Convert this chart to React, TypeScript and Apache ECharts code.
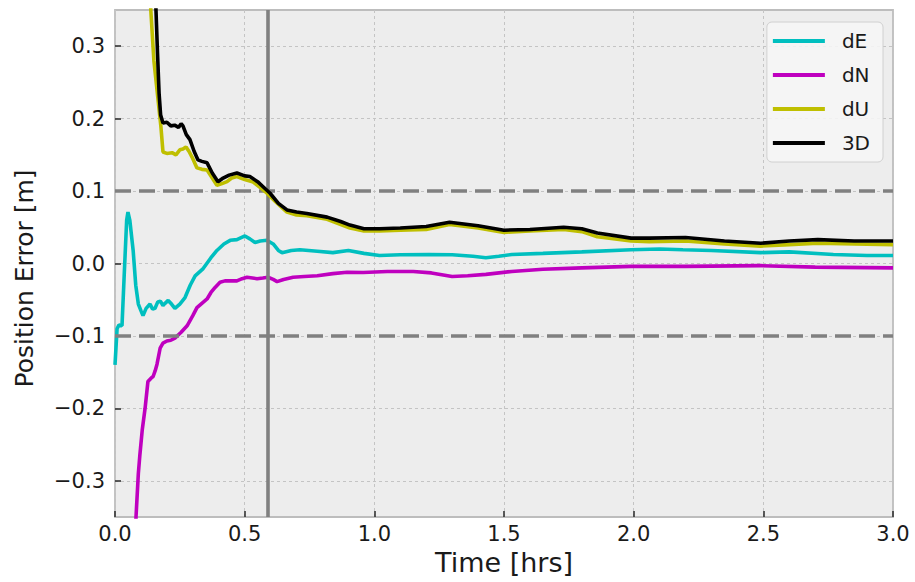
import React, { useEffect, useRef } from "react";
import * as echarts from "echarts";

const seriesNames = ["dE", "dN", "dU", "3D"];
const seriesColors = ["#00bfbf", "#bf00bf", "#bfbf00", "#000000"];

const dE: number[][] = [
  [0.0, -0.14], [0.008, -0.09], [0.015, -0.085], [0.027, -0.086], [0.035, -0.02], [0.045, 0.06], [0.05, 0.071],
  [0.057, 0.06], [0.07, 0.018], [0.08, -0.03], [0.09, -0.056], [0.1, -0.065], [0.108, -0.072], [0.12, -0.062],
  [0.135, -0.056], [0.145, -0.063], [0.154, -0.062], [0.165, -0.053], [0.175, -0.052], [0.185, -0.058],
  [0.193, -0.055], [0.205, -0.051], [0.218, -0.056], [0.231, -0.062], [0.25, -0.056], [0.27, -0.047],
  [0.29, -0.03], [0.309, -0.017], [0.34, -0.007], [0.37, 0.008], [0.393, 0.018], [0.42, 0.027], [0.444, 0.032],
  [0.47, 0.033], [0.501, 0.038], [0.52, 0.034], [0.54, 0.029], [0.56, 0.031], [0.586, 0.032], [0.61, 0.027],
  [0.63, 0.018], [0.644, 0.015], [0.68, 0.018], [0.713, 0.019], [0.78, 0.017], [0.84, 0.015], [0.9, 0.018],
  [0.96, 0.014], [1.02, 0.011], [1.1, 0.012], [1.21, 0.0125], [1.3, 0.012], [1.38, 0.01], [1.43, 0.008],
  [1.48, 0.01], [1.53, 0.0125], [1.65, 0.014], [1.8, 0.016], [1.99, 0.019], [2.1, 0.02], [2.19, 0.019],
  [2.3, 0.018], [2.49, 0.015], [2.6, 0.016], [2.77, 0.0125], [2.9, 0.011], [3.0, 0.011],
];

const dN: number[][] = [
  [0.076, -0.42], [0.081, -0.35], [0.09, -0.29], [0.096, -0.264], [0.105, -0.23], [0.116, -0.2], [0.127, -0.163],
  [0.14, -0.158], [0.147, -0.156], [0.155, -0.148], [0.162, -0.139], [0.174, -0.117], [0.185, -0.11],
  [0.2, -0.107], [0.215, -0.106], [0.231, -0.103], [0.255, -0.095], [0.278, -0.086], [0.3, -0.072],
  [0.316, -0.061], [0.335, -0.055], [0.355, -0.049], [0.37, -0.04], [0.386, -0.033], [0.405, -0.026],
  [0.424, -0.024], [0.45, -0.024], [0.47, -0.024], [0.49, -0.021], [0.509, -0.019], [0.53, -0.02],
  [0.548, -0.021], [0.57, -0.02], [0.59, -0.019], [0.61, -0.022], [0.625, -0.025], [0.65, -0.022],
  [0.687, -0.019], [0.73, -0.018], [0.78, -0.017], [0.84, -0.014], [0.895, -0.012], [0.957, -0.0125],
  [1.05, -0.011], [1.15, -0.011], [1.22, -0.013], [1.3, -0.018], [1.36, -0.017], [1.43, -0.015],
  [1.53, -0.011], [1.65, -0.008], [1.8, -0.006], [1.99, -0.004], [2.2, -0.004], [2.49, -0.003],
  [2.7, -0.005], [3.0, -0.006],
];

const dU: number[][] = [
  [0.13, 0.45], [0.138, 0.35], [0.15, 0.28], [0.166, 0.226], [0.177, 0.189], [0.185, 0.154], [0.2, 0.152],
  [0.22, 0.153], [0.235, 0.15], [0.25, 0.157], [0.262, 0.158], [0.274, 0.161], [0.285, 0.155], [0.297, 0.147],
  [0.316, 0.132], [0.335, 0.13], [0.355, 0.129], [0.375, 0.118], [0.393, 0.108], [0.41, 0.11], [0.432, 0.113],
  [0.45, 0.118], [0.47, 0.12], [0.5, 0.116], [0.53, 0.113], [0.56, 0.105], [0.586, 0.097], [0.62, 0.085],
  [0.663, 0.071], [0.7, 0.067], [0.74, 0.066], [0.818, 0.061], [0.906, 0.049], [0.96, 0.045], [1.02, 0.045],
  [1.1, 0.046], [1.2, 0.047], [1.29, 0.054], [1.4, 0.049], [1.5, 0.043], [1.6, 0.045], [1.73, 0.047],
  [1.8, 0.044], [1.86, 0.037], [1.99, 0.031], [2.06, 0.03], [2.2, 0.031], [2.35, 0.027], [2.49, 0.024],
  [2.6, 0.026], [2.71, 0.028], [2.85, 0.027], [3.0, 0.026],
];

const d3D: number[][] = [
  [0.152, 0.45], [0.158, 0.35], [0.164, 0.29], [0.17, 0.235], [0.176, 0.205], [0.185, 0.194], [0.2, 0.195],
  [0.215, 0.19], [0.23, 0.191], [0.245, 0.188], [0.255, 0.193], [0.262, 0.19], [0.275, 0.178], [0.289, 0.171],
  [0.305, 0.155], [0.32, 0.143], [0.335, 0.141], [0.355, 0.139], [0.375, 0.125], [0.397, 0.113],
  [0.417, 0.118], [0.44, 0.122], [0.47, 0.125], [0.5, 0.121], [0.52, 0.12], [0.55, 0.113], [0.571, 0.106],
  [0.598, 0.097], [0.63, 0.083], [0.663, 0.074], [0.7, 0.071], [0.74, 0.069], [0.818, 0.064], [0.87, 0.058],
  [0.906, 0.053], [0.96, 0.048], [1.02, 0.048], [1.1, 0.049], [1.2, 0.051], [1.29, 0.057], [1.4, 0.052],
  [1.5, 0.046], [1.6, 0.047], [1.73, 0.05], [1.8, 0.048], [1.86, 0.042], [1.99, 0.035], [2.06, 0.035],
  [2.2, 0.036], [2.35, 0.031], [2.49, 0.028], [2.6, 0.031], [2.71, 0.033], [2.85, 0.031], [3.0, 0.031],
];

const yTicks = [-0.3, -0.2, -0.1, 0.0, 0.1, 0.2, 0.3];
const thresholds = [0.1, -0.1];
const markerTime = 0.59;

const FONT = "DejaVu Sans";
const TXT = "#1a1a1a";

export default function App() {
  const ref = useRef<HTMLDivElement>(null);
  useEffect(() => {
    if (!ref.current) return;
    const chart = echarts.init(ref.current, undefined, { renderer: "svg" });
    const allData = [dE, dN, dU, d3D];
    const lineSeries = seriesNames.map((name, i) => ({
      name,
      type: "line",
      data: allData[i],
      showSymbol: false,
      symbol: "none",
      clip: true,
      lineStyle: { color: seriesColors[i], width: 3.6 },
      itemStyle: { color: seriesColors[i] },
      z: 3 + i,
    }));
    chart.setOption({
      animation: false,
      backgroundColor: "#ffffff",
      textStyle: { fontFamily: FONT },
      grid: {
        left: 115,
        right: 22,
        top: 10,
        bottom: 65,
        show: true,
        backgroundColor: "#ededed",
        borderColor: "#bdbdbd",
        borderWidth: 1.8,
      },
      legend: {
        data: seriesNames,
        orient: "vertical",
        right: 32,
        top: 22,
        icon: "rect",
        itemWidth: 52,
        itemHeight: 4,
        itemGap: 12,
        padding: [8, 13, 8, 6],
        backgroundColor: "rgba(245,245,245,0.9)",
        borderColor: "#d0d0d0",
        borderWidth: 1,
        borderRadius: 5,
        textStyle: { fontFamily: FONT, fontSize: 20, color: TXT, lineHeight: 22, padding: [0, 0, 0, 12] },
      },
      xAxis: {
        type: "value",
        min: 0,
        max: 3,
        interval: 0.5,
        name: "Time [hrs]",
        nameLocation: "middle",
        nameGap: 22,
        nameTextStyle: { fontFamily: FONT, fontSize: 27, color: TXT },
        axisLine: { show: false, onZero: false },
        axisTick: { show: true, inside: true, length: 6, lineStyle: { color: "#333", width: 1.6 } },
        axisLabel: {
          fontFamily: FONT,
          fontSize: 21,
          color: TXT,
          margin: 6,
          formatter: (v: number) => v.toFixed(1),
        },
        splitLine: { show: true, lineStyle: { color: "#c4c4c4", width: 1, type: [3, 3] } },
      },
      yAxis: {
        type: "value",
        min: -0.35,
        max: 0.35,
        name: "Position Error [m]",
        nameLocation: "middle",
        nameGap: 78,
        nameTextStyle: { fontFamily: FONT, fontSize: 25, color: TXT, padding: [0, 30, 0, 0] },
        axisLine: { show: false, onZero: false },
        axisTick: {
          show: true,
          inside: true,
          length: 6,
          customValues: yTicks,
          lineStyle: { color: "#333", width: 1.6 },
        },
        axisLabel: {
          fontFamily: FONT,
          fontSize: 21,
          color: TXT,
          margin: 10,
          customValues: yTicks,
          formatter: (v: number) => {
            const r = Math.round(v * 10) / 10;
            if (Math.abs(r) < 1e-9) return "0.0";
            return r < 0 ? "\u2212" + Math.abs(r).toFixed(1) : r.toFixed(1);
          },
        },
        splitLine: { show: true, lineStyle: { color: "#c4c4c4", width: 1, type: [3, 3] } },
      },
      series: [
        ...lineSeries,
        {
          name: "refs",
          type: "line",
          data: [],
          symbol: "none",
          z: 10,
          markLine: {
            silent: true,
            symbol: "none",
            label: { show: false },
            animation: false,
            data: [
              ...thresholds.map((y) => ({
                yAxis: y,
                lineStyle: { color: "#808080", width: 3.6, type: [16, 8] },
              })),
              { xAxis: markerTime, lineStyle: { color: "#808080", width: 3.6, type: "solid" } },
            ],
          },
        },
      ],
    });
    return () => chart.dispose();
  }, []);
  return (
    <div
      ref={ref}
      style={{ position: "fixed", left: 0, top: 0, width: 915, height: 582 }}
    />
  );
}
